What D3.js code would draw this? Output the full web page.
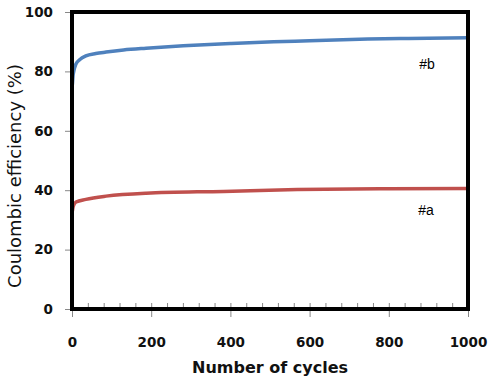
<!DOCTYPE html>
<html>
<head>
<meta charset="utf-8">
<script src="https://cdn.jsdelivr.net/npm/d3@7"></script>
<style>
  body { margin: 0; background: #fff; }
  svg { display: block; }
</style>
</head>
<body>
<svg width="504" height="376"></svg>
<script>
// cycles and coulombic efficiency
let cyclesB = [1, 3, 10, 20, 35, 60, 86, 130, 187, 281, 400, 509, 600, 747, 850, 1000];
let effB = [75.5, 79, 82.5, 84, 85.2, 86, 86.5, 87.2, 87.8, 88.6, 89.4, 90.0, 90.3, 90.9, 91.1, 91.3];
let cyclesA = [1, 3, 10, 35, 86, 187, 383, 569, 800, 1000];
let effA = [33, 34.5, 36, 36.9, 38, 39.0, 39.6, 40.2, 40.5, 40.6];
let xTicks = [0, 200, 400, 600, 800, 1000];
let yTicks = [0, 20, 40, 60, 80, 100];

let seriesB = cyclesB.map(function (c, i) { return [c, effB[i]]; });
let seriesA = cyclesA.map(function (c, i) { return [c, effA[i]]; });

let svg = d3.select('svg');
let plotL = 72, plotR = 468, plotT = 12, plotB = 309;

let x = d3.scaleLinear().domain([0, 1000]).range([plotL, plotR]);
let y = d3.scaleLinear().domain([0, 100]).range([plotB, plotT]);

// minor ticks inside, every 40 cycles
let minor = d3.range(0, 1001, 40);
svg.append('g')
    .attr('transform', 'translate(0,' + (plotB - 2) + ')')
    .call(d3.axisTop(x).tickValues(minor).tickSize(4).tickFormat(''))
    .call(function (g) {
        g.select('.domain').remove();
        g.selectAll('line').attr('stroke', '#888');
    });

// major x ticks below
svg.append('g')
    .attr('transform', 'translate(0,' + plotB + ')')
    .call(d3.axisBottom(x).tickValues(xTicks).tickSize(8).tickPadding(20).tickFormat(d3.format('d')))
    .call(function (g) {
        g.select('.domain').remove();
        g.selectAll('line').attr('stroke', '#888');
        g.selectAll('text')
            .attr('font-family', 'DejaVu Sans')
            .attr('font-weight', 'bold')
            .attr('font-size', 13.5)
            .attr('fill', '#111');
    });

// y axis
svg.append('g')
    .attr('transform', 'translate(' + plotL + ',0)')
    .call(d3.axisLeft(y).tickValues(yTicks).tickSize(7).tickPadding(12))
    .call(function (g) {
        g.select('.domain').remove();
        g.selectAll('line').attr('stroke', '#888');
        g.selectAll('text')
            .attr('font-family', 'DejaVu Sans')
            .attr('font-weight', 'bold')
            .attr('font-size', 13.5)
            .attr('fill', '#111');
    });

let line = d3.line()
    .x(function (d) { return x(d[0]); })
    .y(function (d) { return y(d[1]); })
    .curve(d3.curveMonotoneX);

svg.append('path')
    .datum(seriesA)
    .attr('d', line)
    .attr('fill', 'none')
    .attr('stroke', '#C0504D')
    .attr('stroke-width', 3.5);

svg.append('path')
    .datum(seriesB)
    .attr('d', line)
    .attr('fill', 'none')
    .attr('stroke', '#4F81BD')
    .attr('stroke-width', 3.5);

// frame
svg.append('rect')
    .attr('x', plotL)
    .attr('y', plotT)
    .attr('width', plotR - plotL)
    .attr('height', plotB - plotT)
    .attr('fill', 'none')
    .attr('stroke', '#000')
    .attr('stroke-width', 4);

// series labels
svg.append('text')
    .attr('x', 427).attr('y', 69)
    .attr('text-anchor', 'middle')
    .attr('font-family', 'Liberation Sans')
    .attr('font-size', 14)
    .text('#b');

svg.append('text')
    .attr('x', 426).attr('y', 215)
    .attr('text-anchor', 'middle')
    .attr('font-family', 'Liberation Sans')
    .attr('font-size', 14)
    .text('#a');

// axis titles
svg.append('text')
    .attr('x', (plotL + plotR) / 2)
    .attr('y', 373)
    .attr('text-anchor', 'middle')
    .attr('font-family', 'DejaVu Sans')
    .attr('font-weight', 'bold')
    .attr('font-size', 16)
    .attr('fill', '#111')
    .text('Number of cycles');

svg.append('text')
    .attr('transform', 'translate(21,176) rotate(-90)')
    .attr('text-anchor', 'middle')
    .attr('font-family', 'DejaVu Sans')
    .attr('font-size', 18)
    .attr('fill', '#111')
    .text('Coulombic efficiency (%)');
</script>
</body>
</html>
